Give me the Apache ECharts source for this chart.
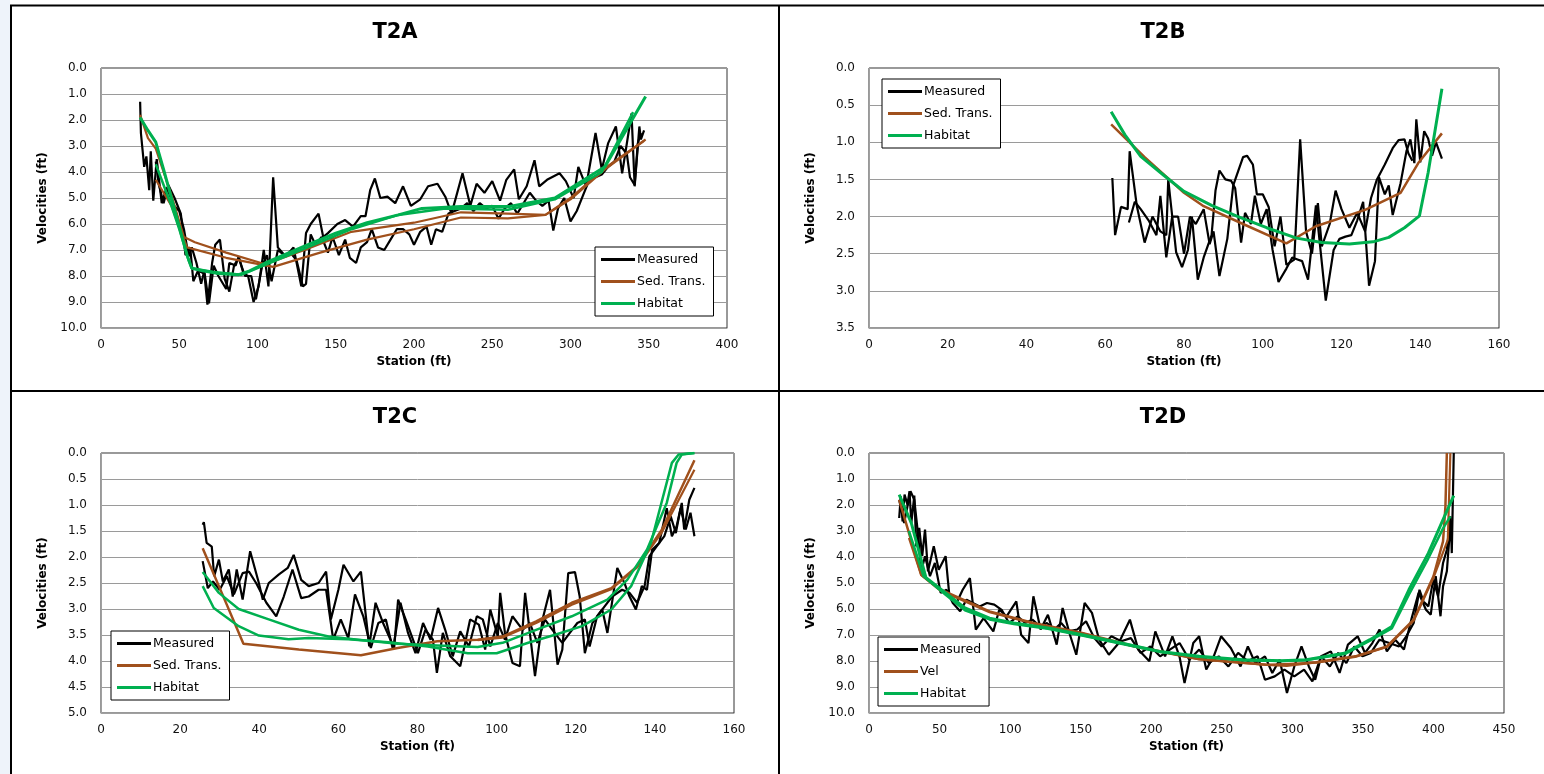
<!DOCTYPE html>
<html>
<head>
<meta charset="utf-8">
<script src="https://cdn.jsdelivr.net/npm/echarts@6/dist/echarts.min.js"></script>
<style>html,body{margin:0;padding:0;background:#fff;}#c{width:1544px;height:774px;}</style>
</head>
<body>
<div id="c"></div>
<script>
// ---------------- DATA ----------------
const panelTitles = ['T2A', 'T2B', 'T2C', 'T2D'];
const xAxisName = 'Station (ft)';
const yAxisName = 'Velocities (ft)';
const legendNamesABC = ['Measured', 'Sed. Trans.', 'Habitat'];
const legendNamesD = ['Measured', 'Vel', 'Habitat'];
// axis ranges [min, max, interval]
const xRangeA = [0, 400, 50], yRangeA = [0, 10, 1];
const xRangeB = [0, 160, 20], yRangeB = [0, 3.5, 0.5];
const xRangeC = [0, 160, 20], yRangeC = [0, 5, 0.5];
const xRangeD = [0, 450, 50], yRangeD = [0, 10, 1];

// T2A
const t2aMeasured1 = [[25,1.3],[25.5,2.5],[27.6,3.8],[29,3.4],[30.8,4.7],[31.8,3.2],[33.4,5.1],[35.6,3.5],[38.8,5.2],[42,4.6],[46.7,5.3],[50,5.5],[53,6.2],[56,7.25],[58,6.9],[61,7.5],[64,8.3],[66,7.8],[69,9.05],[72,7.6],[75,8.0],[80,8.5],[82,7.5],[86,7.6],[88,7.25],[91,7.9],[94,8.0],[97.5,9.0],[100.7,8.4],[104,7.0],[107,8.4],[110,4.2],[113,6.9],[118,7.25],[123,6.9],[128,8.4],[131,6.35],[134,6.0],[139,5.6],[142,6.5],[145,6.35],[151,6.0],[156,5.85],[161,6.1],[166,5.7],[169,5.7],[172,4.7],[175,4.25],[178.5,5.0],[183,4.95],[188,5.2],[193,4.55],[198,5.3],[204,5.05],[209,4.55],[215,4.45],[220,4.95],[224,5.6],[231,4.05],[236,5.3],[240,4.45],[245,4.8],[250,4.35],[255,5.1],[259,4.3],[264,3.9],[267,5.05],[272,4.55],[277,3.55],[280,4.55],[285,4.3],[293,4.05],[297,4.35],[302,5.0],[305,3.8],[310,4.55],[316,2.5],[320,3.9],[324,2.9],[329,2.25],[333,4.05],[339,1.75],[341,4.55],[344,2.25],[345,2.75],[347,2.4]];
const t2aMeasured2 = [[35,3.6],[37,4.5],[40,5.2],[43,4.5],[47,5.0],[51,5.6],[54,7.2],[57,6.9],[59,8.2],[62,7.8],[66,7.9],[68,9.1],[71,7.5],[73,6.8],[76,6.6],[79,8.1],[82,8.6],[85,7.6],[88,7.3],[92,8.0],[96,8.0],[99,8.9],[103,7.6],[106,7.2],[109,8.2],[113,7.0],[117,7.2],[121,7.1],[125,7.4],[129,8.4],[131,8.3],[134,6.4],[137,6.8],[141,6.5],[145,7.1],[148,6.5],[152,7.2],[156,6.6],[159,7.3],[163,7.5],[166,6.9],[170,6.7],[173,6.2],[177,6.9],[181,7.0],[185,6.6],[189,6.2],[193,6.2],[197,6.4],[200,6.8],[204,6.3],[208,6.1],[211,6.8],[214,6.2],[218,6.3],[222,5.6],[226,5.5],[230,5.4],[234,5.2],[238,5.5],[242,5.2],[246,5.4],[250,5.3],[254,5.8],[258,5.4],[262,5.2],[266,5.6],[270,5.2],[274,4.8],[278,5.1],[282,5.3],[286,5.1],[289,6.25],[292,5.4],[296,5.0],[300,5.9],[304,5.5],[308,4.9],[312,4.3],[316,4.2],[320,4.1],[324,3.8],[328,3.6],[332,3.0],[336,3.3],[338,4.2],[341,4.5],[343,2.9],[345,2.5]];
const t2aSed1 = [[25,1.8],[30,2.7],[35,3.1],[45,4.9],[53,6.5],[60,6.7],[80,7.1],[105,7.55],[130,7.0],[160,6.3],[200,5.95],[230,5.55],[260,5.6],[284,5.65],[300,5.0],[322,3.85],[348,2.75]];
const t2aSed2 = [[35,4.3],[45,5.3],[55,6.9],[80,7.3],[110,7.65],[140,7.1],[170,6.6],[200,6.2],[230,5.75],[260,5.78],[284,5.65],[300,5.05],[322,3.9],[347,2.8]];
const t2aHab1 = [[25,1.9],[30,2.4],[35,2.85],[40,3.9],[45,5.0],[50,6.1],[55,7.2],[58,7.7],[65,7.8],[75,7.9],[88,7.95],[95,7.8],[105,7.5],[130,6.85],[150,6.35],[170,5.95],[190,5.65],[205,5.4],[230,5.33],[261,5.33],[290,5.0],[322,3.8],[348,1.1]];
const t2aHab2 = [[35,3.7],[40,4.5],[45,5.3],[50,6.2],[56,7.4],[58,7.7],[72,7.85],[90,7.95],[100,7.7],[130,6.95],[160,6.2],[190,5.65],[220,5.4],[260,5.45],[290,5.05],[320,4.0],[340,1.7]];

// T2B
const t2bMeasured1 = [[61.8,1.48],[62.5,2.25],[64,1.87],[65.7,1.9],[66.2,1.12],[68,1.85],[70,2.35],[72,2.0],[74,2.2],[75.5,2.25],[76,1.5],[76.5,1.75],[78,2.48],[79.5,2.68],[81,2.45],[82,2.0],[83.5,2.85],[85,2.55],[87,2.25],[88,1.65],[89,1.38],[90.5,1.5],[92,1.52],[93,1.62],[94.5,2.35],[95.5,1.95],[97,2.1],[98,1.72],[99.5,2.1],[101,1.9],[102.5,2.45],[104,2.88],[106,2.7],[107.5,2.55],[109,2.58],[110,2.6],[111.5,2.85],[113.5,1.85],[115,2.62],[116,3.13],[118,2.45],[119.5,2.3],[121,2.27],[122.5,2.25],[124,2.05],[125.5,1.8],[127,2.93],[128.5,2.6],[129.5,1.47],[131,1.7],[132,1.58],[133,1.98],[135,1.55],[136.5,1.12],[137.5,0.96],[138.5,1.28],[139,0.69],[140,1.27],[141,0.85],[142,0.95],[143,1.18],[144,1.0],[145.5,1.22]];
const t2bMeasured2 = [[66,2.08],[67.5,1.8],[69,1.9],[71,2.05],[73,2.25],[74,1.72],[75.5,2.55],[77,2.0],[78.5,2.0],[80,2.5],[81.5,2.0],[83,2.1],[85,1.9],[86.5,2.37],[87.5,2.2],[89,2.8],[91,2.3],[92.5,1.58],[94,1.35],[95,1.2],[96,1.18],[97.5,1.3],[98.5,1.7],[100,1.7],[101.5,1.87],[103,2.4],[104.5,2.0],[106,2.65],[108,2.58],[109.5,0.96],[111,2.2],[112.5,2.5],[114,1.82],[115,2.4],[117,2.1],[118.5,1.65],[120,1.9],[122,2.15],[124,1.95],[126,2.2],[127.5,1.75],[129,1.5],[131,1.3],[133,1.08],[134.5,0.97],[136,0.96],[137,1.15],[138,1.25]];
const t2bSed = [[61.5,0.76],[70,1.2],[80,1.68],[85,1.86],[95,2.1],[106,2.36],[113.5,2.13],[126,1.91],[135,1.68],[139.5,1.28],[145.5,0.88]];
const t2bHab = [[61.5,0.59],[65,0.9],[69,1.19],[75,1.45],[80,1.66],[87,1.85],[93.7,2.0],[101,2.15],[108.6,2.29],[115,2.35],[122,2.37],[128,2.34],[132,2.28],[136,2.15],[139.8,1.99],[142,1.41],[145.5,0.28]];

// T2C
const t2cMeasured1 = [[25.7,1.38],[26,1.33],[26.7,1.73],[28,1.8],[28.6,2.37],[29.8,2.05],[30.8,2.47],[32.3,2.24],[33.3,2.76],[34.3,2.24],[35.8,2.82],[37.7,1.89],[39.9,2.5],[40.9,2.82],[42.4,2.5],[44.9,2.34],[47.2,2.21],[48.7,1.96],[50.6,2.44],[52.5,2.56],[55,2.5],[56.9,2.28],[58.1,3.2],[60,2.63],[61.3,2.15],[63.8,2.47],[65.7,2.28],[67.8,3.72],[69.4,2.88],[71.3,3.27],[74.1,3.75],[75.1,2.82],[77,3.2],[80.1,3.85],[82,3.4],[83.9,3.59],[84.9,4.23],[86.4,3.46],[88.3,3.91],[90.8,4.1],[93.3,3.2],[95.5,3.3],[97.1,3.78],[98.4,3.01],[100.3,3.53],[100.9,2.69],[102.1,3.46],[104,4.04],[105.9,4.1],[107.2,2.69],[109.7,4.29],[111.6,3.2],[113.5,2.63],[115.4,4.07],[116.6,3.78],[118.1,2.31],[119.8,2.29],[121,2.76],[122.3,3.85],[124.2,3.27],[126.7,3.01],[128,3.46],[130.5,2.21],[132.3,2.5],[133.6,2.76],[135.2,3.01],[136.7,2.56],[138,2.63],[139.3,1.86],[141.1,1.73],[143,1.06],[144.3,1.6],[145.5,1.41],[146.8,0.96],[147.4,1.47],[148.7,0.9],[150,0.67]];
const t2cMeasured2 = [[25.7,2.08],[27,2.6],[28.3,2.47],[30,2.63],[31.8,2.37],[33.6,2.72],[35.8,2.31],[37.4,2.28],[39.2,2.5],[41.8,2.88],[44.3,3.14],[46.2,2.76],[48.4,2.24],[50.6,2.79],[52.5,2.76],[55,2.63],[56.9,2.63],[58.7,3.59],[60.6,3.2],[62.5,3.56],[64.2,2.72],[66.3,3.14],[68.2,3.75],[70.1,3.27],[72,3.2],[73.8,3.78],[75.7,2.88],[77.6,3.46],[79.5,3.85],[81.4,3.27],[83.3,3.59],[85.2,2.98],[87,3.4],[88.9,3.91],[90.8,3.43],[93,3.72],[95,3.14],[96.5,3.2],[98.4,3.72],[100.3,3.27],[102.1,3.59],[104,3.14],[106.6,3.4],[108.4,3.27],[110.3,3.65],[112.2,3.2],[114.1,3.4],[116.6,3.65],[118.5,3.46],[120.4,3.27],[122.3,3.2],[123.5,3.72],[125.4,3.14],[127.3,2.95],[129.2,2.76],[131.7,2.63],[133.6,2.69],[135.5,2.88],[137.4,2.56],[138.6,1.99],[140.5,1.79],[142.4,1.6],[144,1.22],[145.3,1.54],[146.5,1.06],[147.8,1.47],[149,1.15],[150,1.6]];
const t2cSed1 = [[25.7,1.83],[29.8,2.56],[36,3.67],[50,3.78],[65.7,3.89],[75,3.75],[85,3.62],[95.2,3.59],[101.5,3.53],[110,3.24],[119,2.88],[129,2.6],[135.5,2.18],[141.8,1.47],[150,0.14]];
const t2cSed2 = [[95.2,3.6],[101.5,3.55],[110,3.27],[119,2.92],[129,2.62],[135.5,2.2],[141.8,1.52],[150,0.32]];
const t2cHab1 = [[25.7,2.29],[29.8,2.69],[34.8,3.0],[42.4,3.2],[50,3.4],[57.5,3.53],[65,3.59],[75,3.67],[85,3.7],[95.2,3.73],[101.5,3.65],[109,3.43],[119,3.14],[128,2.82],[133,2.44],[138,1.86],[143,0.96],[145.5,0.19],[146.8,0.03],[150,0.0]];
const t2cHab2 = [[25.7,2.56],[28.5,2.98],[34.8,3.33],[39.9,3.51],[47.4,3.58],[52.5,3.56],[62.5,3.58],[72.6,3.64],[82.6,3.72],[92.7,3.85],[100,3.85],[108,3.65],[115,3.49],[121.6,3.33],[129,3.01],[134,2.56],[139,1.73],[144.3,0.19],[146,0.03],[150,0.0]];

// T2D
const t2dMeasured1 = [[21.4,2.5],[22.5,1.67],[23.8,2.63],[25.2,1.6],[27.3,1.99],[28.7,1.47],[30,2.69],[32.1,1.64],[33.5,3.59],[35.6,2.88],[37.7,3.97],[39.7,2.95],[41.8,4.55],[45.9,3.59],[49.4,4.49],[54.3,3.97],[57,5.51],[62,5.77],[66.4,5.26],[71.5,4.81],[75.7,6.79],[81.2,6.35],[88.1,6.86],[92.3,6.03],[97.5,6.28],[104.4,5.71],[107.8,6.99],[113,7.31],[116.5,5.51],[121.6,6.79],[126.8,6.22],[133,7.37],[137.2,5.96],[142.4,6.99],[146.9,7.76],[152.8,5.77],[158,6.15],[163.1,7.18],[170,7.76],[177,7.31],[184.9,6.41],[190.8,7.56],[198.7,8.01],[202.9,6.86],[209.8,7.82],[215,7.05],[220,7.82],[223.6,8.85],[229.8,7.31],[234,7.05],[239,8.33],[244.3,7.82],[249.5,7.05],[256.4,7.5],[263.3,8.21],[268.5,7.44],[273.7,8.08],[280.6,7.82],[285.8,8.46],[291,7.95],[296.2,9.23],[301.4,8.21],[306.5,7.44],[311.7,8.21],[316.2,8.72],[320.4,7.82],[327.3,7.63],[333.5,8.46],[339.4,7.37],[346.3,7.05],[351.5,7.69],[356.7,7.31],[361.8,6.79],[367,7.63],[372.9,7.18],[379.1,7.56],[384.3,6.41],[389.5,5.38],[394.7,6.03],[398.1,6.22],[401.6,4.74],[405,6.28],[406.8,5.13],[409.5,4.55],[411,3.46],[412.3,2.69],[413,3.85],[414.4,0]];
const t2dMeasured2 = [[21.4,1.8],[24.9,2.69],[29.4,1.47],[32.1,1.8],[34.9,3.2],[37,4.55],[39.7,3.97],[43.2,4.74],[46.7,4.23],[50.8,5.38],[54.9,5.26],[59.4,5.77],[64.6,6.09],[69.1,5.64],[73.6,5.77],[78.4,5.9],[83.6,5.77],[88.8,5.83],[94,6.03],[99.2,6.54],[105.4,6.28],[110.6,6.54],[115.8,6.41],[121,6.67],[126.1,6.54],[131.3,6.79],[136.2,6.54],[141.4,6.86],[147.6,6.79],[153.8,6.47],[159.7,7.12],[164.9,7.44],[171.8,7.05],[178.7,7.24],[185.6,7.12],[192.5,7.69],[199.4,7.44],[206.3,7.82],[213.2,7.56],[220.1,7.31],[227,7.95],[234,7.56],[240.9,8.08],[247.8,7.82],[254.7,8.21],[261.6,7.69],[268.5,8.01],[275.4,7.82],[280.6,8.72],[287.5,8.59],[294.4,8.33],[301.4,8.59],[308.3,8.33],[314.2,8.78],[320.4,7.82],[326.6,8.21],[332.5,7.69],[338.3,8.08],[343.9,7.44],[349.7,7.82],[355.6,7.69],[361.8,7.18],[368.7,7.31],[375.6,7.44],[380.8,7.05],[386,6.54],[390.1,5.26],[392.9,5.71],[396.4,5.9],[399.9,4.87],[403.3,5.51],[406.8,4.23],[409.5,3.72],[412,2.44],[413,2.95]];
const t2dVel1 = [[21.4,1.8],[37,4.68],[50.8,5.26],[85.4,6.09],[116.5,6.54],[151,6.92],[189,7.44],[234,7.92],[282,8.14],[296,8.18],[317,8.05],[344.6,7.82],[367,7.44],[386,6.41],[400,4.74],[406.8,3.4],[408.5,2.05],[409.5,0]];
const t2dVel2 = [[28.3,3.27],[37,4.7],[50.8,5.3],[85.4,6.12],[116.5,6.56],[151,6.94],[189,7.46],[234,7.94],[282,8.15],[317,8.06],[344.6,7.84],[367,7.46],[386,6.45],[400,4.8],[410.2,3.33],[412,0]];
const t2dHab1 = [[21.4,1.6],[30,2.7],[40.4,4.8],[54.3,5.38],[68,5.96],[85.4,6.35],[102.6,6.54],[126.8,6.73],[151,6.99],[178.7,7.31],[206,7.63],[234,7.82],[265,7.95],[292.7,7.99],[310,7.95],[337.7,7.69],[355,7.18],[370.5,6.67],[382.6,5.26],[396.4,3.85],[406.8,2.56],[414.4,1.64]];
const t2dHab2 = [[28.3,3.0],[38.7,4.74],[54.3,5.45],[68,6.05],[85.4,6.4],[102.6,6.58],[126.8,6.76],[151,7.02],[178.7,7.34],[206,7.65],[234,7.84],[265,7.97],[292.7,8.0],[310,7.96],[337.7,7.72],[355,7.22],[370.5,6.75],[382.6,5.45],[396.4,4.05],[406.8,2.9],[412,2.44]];

// ---------------- CHART ----------------
const BLACK = '#000000', BROWN = '#a0501c', GREEN = '#00b050';
const FONT = '"DejaVu Sans", Verdana, sans-serif';

function ser(name, data, color, width, idx) {
  return {
    type: 'line', name: name, data: data, xAxisIndex: idx, yAxisIndex: idx,
    showSymbol: false, symbol: 'none', smooth: false, clip: true,
    color: color,
    itemStyle: { color: color },
    lineStyle: { color: color, width: width },
    emphasis: { disabled: true }, animation: false
  };
}

const grids = [
  { left: 101, top: 68, width: 626, height: 260 },
  { left: 869, top: 68, width: 630, height: 260 },
  { left: 101, top: 453, width: 633, height: 260 },
  { left: 869, top: 453, width: 635, height: 260 }
].map(g => Object.assign({ show: true, borderColor: '#333', borderWidth: 1, backgroundColor: '#fff' }, g));

const xRanges = [xRangeA, xRangeB, xRangeC, xRangeD];
const yRanges = [yRangeA, yRangeB, yRangeC, yRangeD];

const xAxes = xRanges.map((r, i) => ({
  type: 'value', gridIndex: i, min: r[0], max: r[1], interval: r[2],
  name: xAxisName, nameLocation: 'middle', nameGap: 28,
  nameTextStyle: { fontFamily: FONT, fontWeight: 'bold', fontSize: 12, color: '#000' },
  axisLine: { show: true, onZero: false, lineStyle: { color: '#a0a0a0', width: 1 } },
  axisTick: { show: false },
  splitLine: { show: false },
  axisLabel: { fontFamily: FONT, fontSize: 12, color: '#111', margin: 11 }
}));

const yAxes = yRanges.map((r, i) => ({
  type: 'value', gridIndex: i, min: r[0], max: r[1], interval: r[2], inverse: true,
  name: yAxisName, nameLocation: 'middle', nameGap: 52, nameRotate: 90,
  nameTextStyle: { fontFamily: FONT, fontWeight: 'bold', fontSize: 12, color: '#000' },
  axisLine: { show: true, onZero: false, lineStyle: { color: '#a0a0a0', width: 1 } },
  axisTick: { show: false },
  splitLine: { show: true, lineStyle: { color: '#9a9a9a', width: 1 } },
  axisLabel: { fontFamily: FONT, fontSize: 12, color: '#111', margin: 14, formatter: v => v.toFixed(1) }
}));

function legend(names, left, top) {
  return {
    show: true, data: names, left: left, top: top, orient: 'vertical',
    icon: 'rect', itemWidth: 34, itemHeight: 3, itemGap: 9,
    padding: [6, 8, 6, 6],
    backgroundColor: '#fff', borderColor: '#000', borderWidth: 1, borderRadius: 0,
    textStyle: { fontFamily: FONT, fontSize: 12.5, color: '#000', padding: [0, 0, 0, -3] },
    selectedMode: false
  };
}

const titlePos = [[395, 33], [1163, 33], [395, 418], [1163, 418]];
const graphics = [
  { type: 'rect', shape: { x: 0, y: 0, width: 10, height: 774 }, style: { fill: '#eef3fa' }, silent: true },
  { type: 'line', shape: { x1: 10, y1: 5.5, x2: 1544, y2: 5.5 }, style: { stroke: '#000', lineWidth: 2 }, silent: true },
  { type: 'line', shape: { x1: 11, y1: 5, x2: 11, y2: 774 }, style: { stroke: '#000', lineWidth: 2 }, silent: true },
  { type: 'line', shape: { x1: 779, y1: 5, x2: 779, y2: 774 }, style: { stroke: '#000', lineWidth: 2 }, silent: true },
  { type: 'line', shape: { x1: 11, y1: 391, x2: 1544, y2: 391 }, style: { stroke: '#000', lineWidth: 2 }, silent: true }
].concat(panelTitles.map((t, i) => ({
  type: 'text', silent: true,
  style: { text: t, x: titlePos[i][0], y: titlePos[i][1], textAlign: 'center', textVerticalAlign: 'middle',
           font: 'bold 21px ' + FONT, fill: '#000' }
})));

const series = [
  ser('Measured', t2aMeasured1, BLACK, 2.2, 0),
  ser('Measured', t2aMeasured2, BLACK, 2.2, 0),
  ser('Sed. Trans.', t2aSed1, BROWN, 2.2, 0),
  ser('Sed. Trans.', t2aSed2, BROWN, 2.2, 0),
  ser('Habitat', t2aHab2, GREEN, 2.5, 0),
  ser('Habitat', t2aHab1, GREEN, 3, 0),

  ser('Measured', t2bMeasured1, BLACK, 2.2, 1),
  ser('Measured', t2bMeasured2, BLACK, 2.2, 1),
  ser('Sed. Trans.', t2bSed, BROWN, 2.5, 1),
  ser('Habitat', t2bHab, GREEN, 3, 1),

  ser('Measured', t2cMeasured1, BLACK, 2.2, 2),
  ser('Measured', t2cMeasured2, BLACK, 2.2, 2),
  ser('Sed. Trans.', t2cSed1, BROWN, 2.5, 2),
  ser('Sed. Trans.', t2cSed2, BROWN, 2.2, 2),
  ser('Habitat', t2cHab1, GREEN, 2.5, 2),
  ser('Habitat', t2cHab2, GREEN, 2.5, 2),

  ser('Measured', t2dMeasured1, BLACK, 2.2, 3),
  ser('Measured', t2dMeasured2, BLACK, 2.2, 3),
  ser('Vel', t2dVel1, BROWN, 2.5, 3),
  ser('Vel', t2dVel2, BROWN, 2.2, 3),
  ser('Habitat', t2dHab2, GREEN, 2.5, 3),
  ser('Habitat', t2dHab1, GREEN, 3, 3)
];

const chart = echarts.init(document.getElementById('c'), null, { renderer: 'canvas', width: 1544, height: 774 });
chart.setOption({
  backgroundColor: '#fff',
  animation: false,
  grid: grids,
  xAxis: xAxes,
  yAxis: yAxes,
  legend: [
    legend(legendNamesABC, 595, 247),
    legend(legendNamesABC, 882, 79),
    legend(legendNamesABC, 111, 631),
    legend(legendNamesD, 878, 637)
  ],
  graphic: graphics,
  series: series
});
</script>
</body>
</html>
